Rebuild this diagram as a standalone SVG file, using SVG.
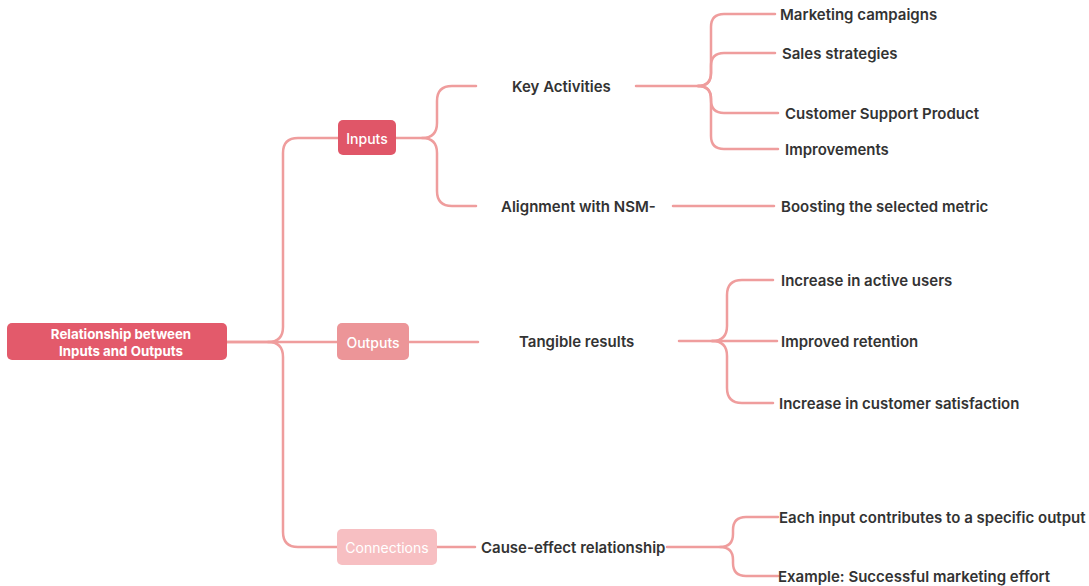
<svg xmlns="http://www.w3.org/2000/svg" width="1089" height="586" viewBox="0 0 1089 586">
  <style>
    .link { fill: none; stroke: #ef9d9d; stroke-width: 2.5; stroke-linecap: round; }
    .lbl { font-family: Inter, "Noto Sans", "Liberation Sans", sans-serif; font-size: 15px; font-weight: 600; fill: #333333; dominant-baseline: central; }
    .box-text { font-family: Inter, "Noto Sans", "Liberation Sans", sans-serif; fill: #ffffff; text-anchor: middle; dominant-baseline: central; }
  </style>
  <rect width="1089" height="586" fill="#ffffff"/>

  <g id="connectors">
    <!-- root to branch nodes -->
    <path class="link" d="M227,342 H268 Q283,342 283,327 V153 Q283,138 298,138 H338"/>
    <path class="link" d="M227,342 H337"/>
    <path class="link" d="M268,342 Q283,342 283,357 V532 Q283,547 298,547 H337"/>
    <!-- Inputs -->
    <path class="link" d="M396,138 H422 Q437,138 437,123 V101 Q437,86 452,86 H476"/>
    <path class="link" d="M422,138 Q437,138 437,153 V191 Q437,206 452,206 H476"/>
    <!-- Key Activities -->
    <path class="link" d="M636,86 H698 Q711,86 711,73 V27 Q711,14 724,14 H775"/>
    <path class="link" d="M698,86 Q711,86 711,73 V66 Q711,53 724,53 H775"/>
    <path class="link" d="M698,86 Q711,86 711,99 V100 Q711,113 724,113 H778"/>
    <path class="link" d="M698,86 Q711,86 711,99 V136 Q711,149 724,149 H778"/>
    <!-- Alignment with NSM- -->
    <path class="link" d="M673,206 H774"/>
    <!-- Outputs -->
    <path class="link" d="M409,342 H478"/>
    <path class="link" d="M679,341 H712 Q727,341 727,326 V295 Q727,280 742,280 H773"/>
    <path class="link" d="M712,341 H777"/>
    <path class="link" d="M712,341 Q727,341 727,356 V388 Q727,403 742,403 H773"/>
    <!-- Connections -->
    <path class="link" d="M437,547 H475"/>
    <path class="link" d="M667,547 H720 Q733,547 733,534 V530 Q733,517 746,517 H778"/>
    <path class="link" d="M720,547 Q733,547 733,560 V563 Q733,576 746,576 H778"/>
  </g>

  <g id="root">
    <rect x="7" y="323" width="220" height="37" rx="5" fill="#e35a6b"/>
    <text class="box-text" x="121" y="334" font-size="13.3" font-weight="700">Relationship between</text>
    <text class="box-text" x="121" y="351" font-size="13.3" font-weight="700">Inputs and Outputs</text>
  </g>

  <g id="inputs">
    <rect x="338" y="120" width="58" height="35" rx="5" fill="#e05668"/>
    <text class="box-text" x="367" y="138" font-size="14" font-weight="500">Inputs</text>
  </g>
  <g id="outputs">
    <rect x="337" y="323" width="72" height="37" rx="5" fill="#ec9598"/>
    <text class="box-text" x="373" y="342" font-size="14" font-weight="500">Outputs</text>
  </g>
  <g id="connections">
    <rect x="337" y="529" width="100" height="36" rx="5" fill="#f7bfc2"/>
    <text class="box-text" x="387" y="547" font-size="14" font-weight="400">Connections</text>
  </g>

  <g id="key-activities"><text class="lbl" x="512" y="86">Key Activities</text></g>
  <g id="marketing-campaigns"><text class="lbl" x="780" y="14">Marketing campaigns</text></g>
  <g id="sales-strategies"><text class="lbl" x="782" y="53">Sales strategies</text></g>
  <g id="customer-support"><text class="lbl" x="785" y="113">Customer Support Product</text></g>
  <g id="improvements"><text class="lbl" x="785" y="149">Improvements</text></g>
  <g id="alignment"><text class="lbl" x="501" y="206">Alignment with NSM-</text></g>
  <g id="boosting"><text class="lbl" x="781" y="206">Boosting the selected metric</text></g>

  <g id="tangible-results"><text class="lbl" x="519" y="341">Tangible results</text></g>
  <g id="active-users"><text class="lbl" x="781" y="280">Increase in active users</text></g>
  <g id="retention"><text class="lbl" x="781" y="341">Improved retention</text></g>
  <g id="satisfaction"><text class="lbl" x="779" y="403">Increase in customer satisfaction</text></g>

  <g id="cause-effect"><text class="lbl" x="481" y="547">Cause-effect relationship</text></g>
  <g id="each-input"><text class="lbl" x="779" y="517">Each input contributes to a specific output</text></g>
  <g id="example"><text class="lbl" x="778" y="576">Example: Successful marketing effort</text></g>
</svg>
